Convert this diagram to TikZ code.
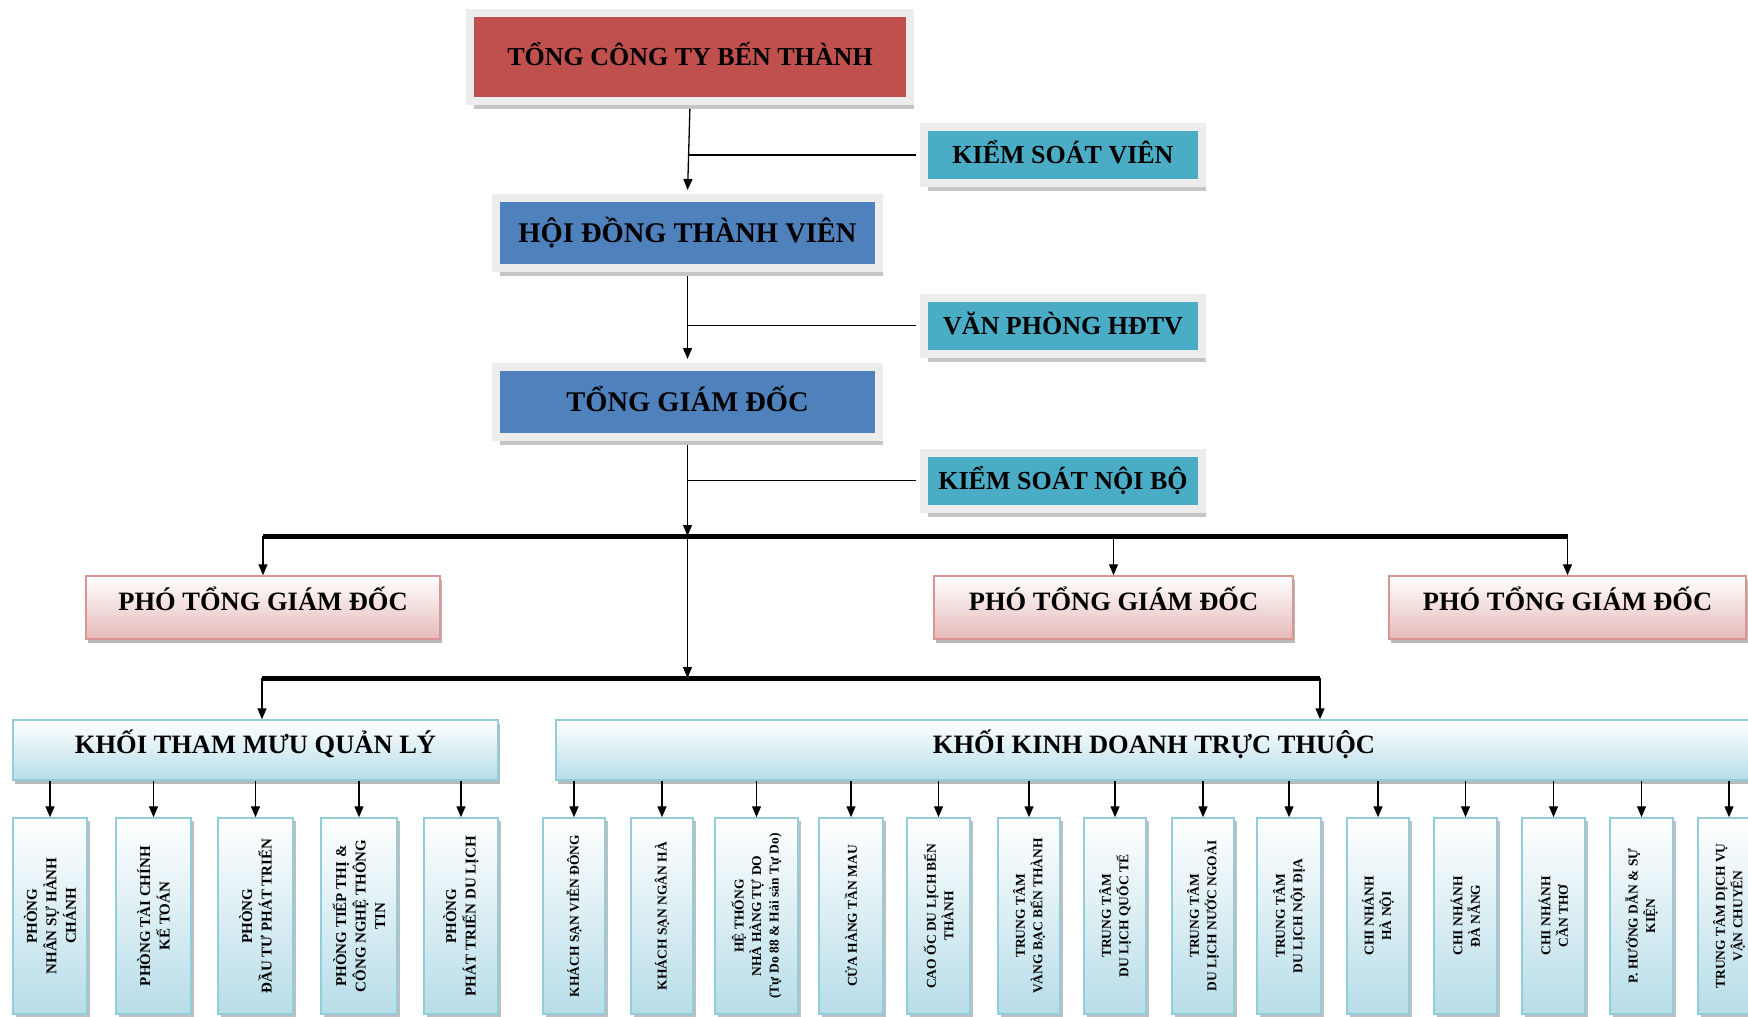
\documentclass[tikz,border=0pt]{standalone}
\usepackage{fontspec}
\setmainfont{Liberation Serif}
\usetikzlibrary{arrows.meta,shadows}
\definecolor{topred}{HTML}{C0504D}
\definecolor{mblue}{HTML}{4F81BD}
\definecolor{aqua}{HTML}{4BACC6}
\definecolor{pinkbot}{HTML}{E6B9B8}
\definecolor{pinkline}{HTML}{D99694}
\definecolor{lblue}{HTML}{B7DDE8}
\definecolor{lbline}{HTML}{92CDDC}
\begin{document}
\begin{tikzpicture}[x=1pt,y=-1pt,
  framed/.style={draw=black!7, line width=8pt, inner sep=0pt,
    font=\bfseries\fontsize{26}{30}\selectfont, text height=18pt, text depth=1pt,
    drop shadow={shadow xshift=4pt, shadow yshift=-8pt, fill=black!45}},
  sidebox/.style={framed, fill=aqua, minimum width=278pt, minimum height=56pt},
  bigbox/.style={framed, fill=mblue, minimum width=383pt, minimum height=70pt,
    font=\bfseries\fontsize{28.5}{32}\selectfont, text height=19.5pt},
  vpbox/.style={draw=pinkline, line width=1.5pt, top color=white, bottom color=pinkbot,
    inner sep=0pt, minimum height=63pt,
    font=\bfseries\fontsize{26.5}{30}\selectfont, text height=18pt, text depth=12.4pt,
    drop shadow={shadow xshift=2pt, shadow yshift=-4pt, fill=black!55}},
  khoibox/.style={draw=lbline, line width=1.5pt, top color=white, bottom color=lblue,
    inner sep=0pt, minimum height=60pt,
    font=\bfseries\fontsize{26.5}{30}\selectfont, text height=18pt, text depth=10.4pt,
    drop shadow={shadow xshift=2pt, shadow yshift=-4pt, fill=black!55}},
  unitbox/.style={draw=lbline, line width=1.5pt, top color=white, bottom color=lblue,
    inner sep=0pt, minimum height=196pt,
    drop shadow={shadow xshift=3pt, shadow yshift=-3pt, fill=black!50}},
  lefttext/.style={rotate=90, align=center, inner sep=0pt, font=\bfseries\fontsize{15}{19.5}\selectfont},
  unittext/.style={rotate=90, align=center, inner sep=0pt, font=\bfseries\fontsize{13.5}{17.5}\selectfont},
  plain/.style={line width=1.3pt},
  conn/.style={line width=1.3pt, -{Triangle[length=11pt,width=9pt]}},
  bus/.style={line width=5pt}
]
\useasboundingbox (0,0) rectangle (1748,1017);
\clip (0,0) rectangle (1748,1017);

% top part
\node[framed, fill=topred, minimum width=440pt, minimum height=88pt] (top) at (690,57) {TỔNG CÔNG  TY BẾN THÀNH};
\node[sidebox] (ksv) at (1063,155) {KIỂM SOÁT  VIÊN};
\node[bigbox] (hdtv) at (687.5,233) {HỘI ĐỒNG THÀNH  VIÊN};
\node[sidebox] (vp) at (1063,325.5) {VĂN PHÒNG HĐTV};
\node[bigbox] (tgd) at (687.5,402) {TỔNG GIÁM ĐỐC};
\node[sidebox] (ksnb) at (1063,480.5) {KIỂM SOÁT NỘI BỘ};

\draw[conn, shorten >=4pt, shorten <=4pt] (top.south) -- (hdtv.north);
\draw[plain, shorten <=4pt] (ksv.west) -- (ksv.west -| hdtv.north);
\draw[conn, shorten >=4pt, shorten <=4pt] (hdtv.south) -- (tgd.north);
\draw[plain, shorten <=4pt] (vp.west) -- (vp.west -| tgd.north);
\draw[plain, shorten <=4pt] (ksnb.west) -- (ksnb.west -| tgd.south);

% deputies
\node[vpbox, minimum width=354pt] (p1) at (263,607.5) {PHÓ TỔNG GIÁM ĐỐC};
\node[vpbox, minimum width=359pt] (p2) at (1113.5,607.5) {PHÓ TỔNG GIÁM ĐỐC};
\node[vpbox, minimum width=357pt] (p3) at (1567.5,607.5) {PHÓ TỔNG GIÁM ĐỐC};

\coordinate (j1) at (687.5,536);
\coordinate (j2) at (687.5,678);
\draw[conn, shorten <=4pt] (tgd.south) -- (j1);
\draw[conn] (j1) -- (j2);
\draw[bus] (p1.north |- j1) -- (p3.north |- j1);
\draw[conn] (p1.north |- j1) -- (p1.north);
\draw[conn] (p2.north |- j1) -- (p2.north);
\draw[conn] (p3.north |- j1) -- (p3.north);

% blocks
\node[khoibox, minimum width=485pt] (k1) at (255.5,750) {KHỐI  THAM MƯU QUẢN LÝ};
\node[khoibox, minimum width=1196pt] (k2) at (1154,750) {KHỐI  KINH DOANH  TRỰC  THUỘC};
\coordinate (k1a) at (262,678);
\coordinate (k2a) at (1320,678);
\draw[bus] (k1a) -- (k2a);
\draw[conn] (k1a) -- (k1a |- k1.north);
\draw[conn] (k2a) -- (k2a |- k2.north);

% units of the advisory block
\node[unitbox, minimum width=74pt] (u1) at (50,916) {};
\node[unitbox, minimum width=75pt] (u2) at (153.5,916) {};
\node[unitbox, minimum width=75pt] (u3) at (255.5,916) {};
\node[unitbox, minimum width=76pt] (u4) at (359,916) {};
\node[unitbox, minimum width=74pt] (u5) at (461,916) {};
\node[lefttext] (t1) at (u1.center) {PHÒNG\\NHÂN SỰ HÀNH\\CHÁNH};
\node[lefttext] (t2) at (u2.center) {PHÒNG TÀI CHÍNH\\KẾ TOÁN};
\node[lefttext] (t3) at (u3.center) {PHÒNG\\ĐẦU TƯ PHÁT TRIỂN};
\node[lefttext] (t4) at (u4.center) {PHÒNG TIẾP THỊ \&\\CÔNG NGHỆ THÔNG\\TIN};
\node[lefttext] (t5) at (u5.center) {PHÒNG\\PHÁT TRIỂN DU LỊCH};
\foreach \u in {u1,u2,u3,u4,u5}{
  \draw[conn] (\u.north |- k1.south) -- (\u.north);
}

% business units
\node[unitbox, minimum width=62pt] (v1) at (574,916) {};
\node[unitbox, minimum width=62pt] (v2) at (662,916) {};
\node[unitbox, minimum width=83pt] (v3) at (756.5,916) {};
\node[unitbox, minimum width=64pt] (v4) at (851,916) {};
\node[unitbox, minimum width=63pt] (v5) at (938.5,916) {};
\node[unitbox, minimum width=62pt] (v6) at (1029,916) {};
\node[unitbox, minimum width=62pt] (v7) at (1115,916) {};
\node[unitbox, minimum width=62pt] (v8) at (1203,916) {};
\node[unitbox, minimum width=64pt] (v9) at (1289,916) {};
\node[unitbox, minimum width=62pt] (v10) at (1378,916) {};
\node[unitbox, minimum width=63pt] (v11) at (1465.5,916) {};
\node[unitbox, minimum width=63pt] (v12) at (1553.5,916) {};
\node[unitbox, minimum width=63pt] (v13) at (1641.5,916) {};
\node[unitbox, minimum width=62pt] (v14) at (1729,916) {};
\node[unittext] (s1) at (v1.center) {KHÁCH SẠN VIỄN ĐÔNG};
\node[unittext] (s2) at (v2.center) {KHÁCH SẠN NGÂN HÀ};
\node[unittext] (s3) at (v3.center) {HỆ THỐNG\\NHÀ HÀNG TỰ DO\\(Tự Do 88 \& Hải sản Tự Do)};
\node[unittext] (s4) at (v4.center) {CỬA HÀNG TẦN MAU};
\node[unittext] (s5) at (v5.center) {CAO ỐC DU LỊCH BẾN\\THÀNH};
\node[unittext] (s6) at (v6.center) {TRUNG TÂM\\VÀNG BẠC BẾN THÀNH};
\node[unittext] (s7) at (v7.center) {TRUNG TÂM\\DU LỊCH QUỐC TẾ};
\node[unittext] (s8) at (v8.center) {TRUNG TÂM\\DU LỊCH NƯỚC NGOÀI};
\node[unittext] (s9) at (v9.center) {TRUNG TÂM\\DU LỊCH NỘI ĐỊA};
\node[unittext] (s10) at (v10.center) {CHI NHÁNH\\HÀ NỘI};
\node[unittext] (s11) at (v11.center) {CHI NHÁNH\\ĐÀ NẴNG};
\node[unittext] (s12) at (v12.center) {CHI NHÁNH\\CẦN THƠ};
\node[unittext] (s13) at (v13.center) {P. HƯỚNG DẪN \& SỰ\\KIỆN};
\node[unittext] (s14) at (v14.center) {TRUNG TÂM DỊCH VỤ\\VẬN CHUYỂN};
\foreach \v in {v1,v2,v3,v4,v5,v6,v7,v8,v9,v10,v11,v12,v13,v14}{
  \draw[conn] (\v.north |- k2.south) -- (\v.north);
}
\end{tikzpicture}
\end{document}
